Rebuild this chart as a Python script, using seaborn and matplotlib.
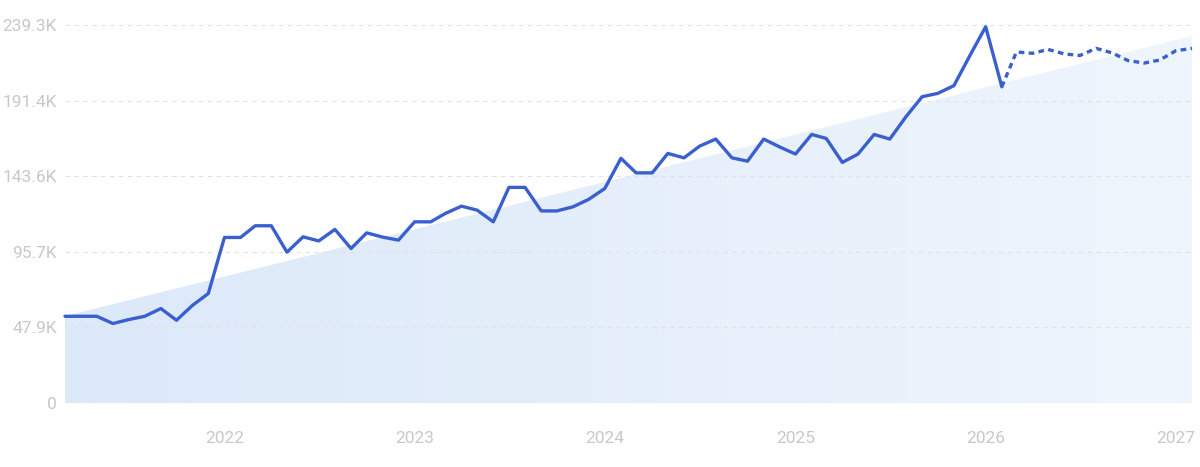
import numpy as np
import pandas as pd
import matplotlib
matplotlib.use('Agg')
import matplotlib.pyplot as plt
import matplotlib.dates as mdates
from matplotlib.patches import Polygon
from matplotlib.colors import LinearSegmentedColormap
import seaborn as sns

# monthly values in thousands, Mar 2021 .. Feb 2026 (actual)
actual = [54.9, 54.9, 54.9, 50.3, 52.8, 54.9, 59.8, 52.4, 61.9, 69.3,
          104.8, 104.8, 112.2, 112.2, 95.5, 105.2, 102.6, 109.9, 97.8, 107.7, 105.0, 103.1,
          114.7, 114.7, 120.0, 124.6, 122.1, 114.7, 136.5, 136.5, 121.6, 121.6, 124.2, 128.9,
          135.8, 154.9, 145.7, 145.7, 158.0, 155.2, 162.6, 167.1, 155.2, 153.1, 167.1, 162.2,
          157.6, 170.0, 167.5, 152.3, 157.6, 170.0, 167.1, 181.2, 193.9, 196.0, 200.9, 219.5,
          238.2, 200.2]
# forecast Feb 2026 .. Feb 2027 (starts at last actual point)
forecast = [200.2, 222.2, 221.4, 223.8, 221.0, 220.0, 224.5, 221.6, 216.8, 215.2,
            217.1, 223.0, 224.5]
# trend band, first and last month
trend_ends = [55.0, 232.3]

ytick_vals = [0, 47.86, 95.72, 143.58, 191.44, 239.3]
ytick_labels = ['0', '47.9K', '95.7K', '143.6K', '191.4K', '239.3K']
year_labels = ['2022', '2023', '2024', '2025', '2026', '2027']

months = pd.date_range('2021-03-01', periods=len(actual) + len(forecast) - 1, freq='MS')
df_act = pd.DataFrame({'date': months[:len(actual)], 'value': actual})
df_fc = pd.DataFrame({'date': months[len(actual) - 1:], 'value': forecast})

sns.set_style('white')
plt.rcParams['font.family'] = ['Roboto', 'DejaVu Sans']

fig = plt.figure(figsize=(12, 4.67), dpi=100)
ax = fig.add_axes([65 / 1200, 1 - 403 / 467, (1192 - 65) / 1200, (403 - 25) / 467])

line_col = '#3a60cf'
ymax = ytick_vals[-1]

# gradient trend area
x0 = mdates.date2num(months[0])
x1 = mdates.date2num(months[-1])
cmap = LinearSegmentedColormap.from_list('bg', ['#dce9f9', '#eff5fd'])
grad = np.linspace(0, 1, 256).reshape(1, -1)
im = ax.imshow(grad, cmap=cmap, extent=[x0, x1, 0, ymax], aspect='auto',
               origin='lower', zorder=0, interpolation='bilinear')
poly = Polygon([[x0, 0], [x0, trend_ends[0]], [x1, trend_ends[1]], [x1, 0]],
               facecolor='none', edgecolor='none', transform=ax.transData)
ax.add_patch(poly)
im.set_clip_path(poly)

sns.lineplot(data=df_act, x='date', y='value', ax=ax, color=line_col,
             linewidth=2.4, zorder=3, clip_on=False)
sns.lineplot(data=df_fc, x='date', y='value', ax=ax, color=line_col,
             linewidth=2.4, zorder=3, clip_on=False, dashes=False,
             linestyle=(0, (1.7, 1.3)))

ax.axhline(0, color='#dfe6f0', linewidth=0.8, zorder=1)

ax.set_xlim(x0, x1)
ax.set_ylim(0, ymax)
ax.set_yticks(ytick_vals)
ax.set_yticklabels(ytick_labels)
ax.set_xticks([mdates.date2num(pd.Timestamp(y + '-01-01')) for y in year_labels])
ax.set_xticklabels(year_labels)
ax.set_xlabel('')
ax.set_ylabel('')

ax.set_axisbelow(False)
ax.yaxis.grid(True, color='#e2e2e2', linestyle=(0, (4, 4)), linewidth=0.8)
ax.xaxis.grid(False)
ax.tick_params(axis='both', length=0, colors='#c8c8c8', labelsize=12.5)
ax.tick_params(axis='y', pad=6)
ax.tick_params(axis='x', pad=20)
sns.despine(ax=ax, left=True, bottom=True)

fig.savefig('out.png', dpi=100)
